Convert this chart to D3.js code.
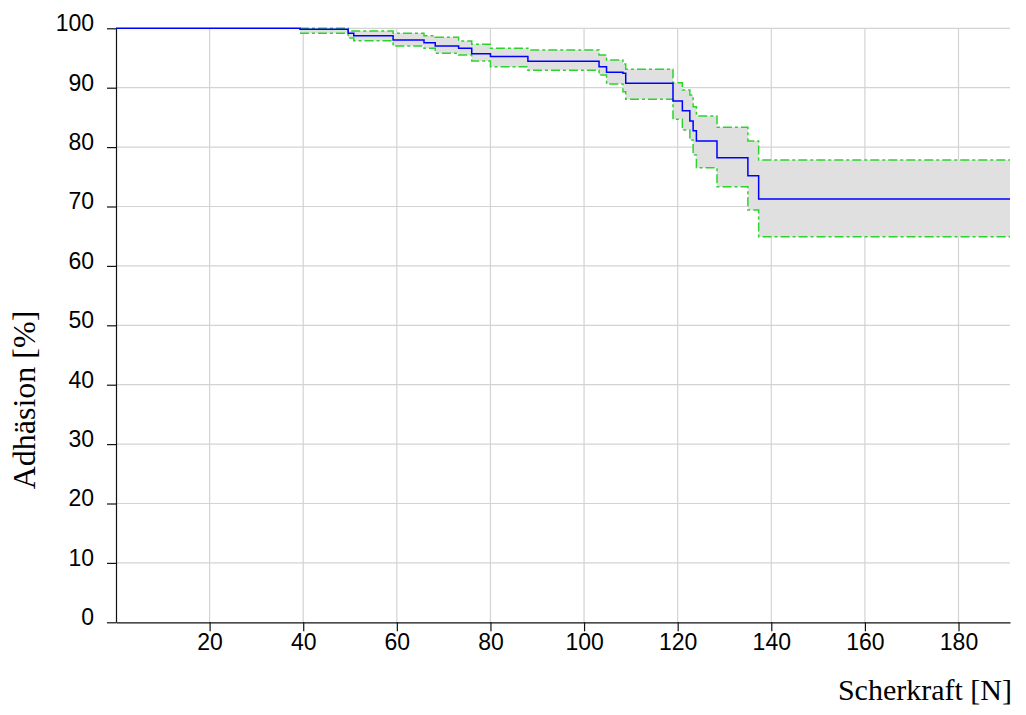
<!DOCTYPE html>
<html>
<head>
<meta charset="utf-8">
<script src="https://cdn.jsdelivr.net/npm/d3@7"></script>
<style>
  html, body { margin: 0; padding: 0; background: #fff; }
  svg { display: block; }
</style>
</head>
<body>
<svg id="chart" width="1026" height="715"></svg>
<script>
// Step start positions (shear force, N)
const stepTimes = [0, 39.3, 49.6, 50.8, 59.2, 65.8, 68.2, 73.2, 76.0, 80.0, 88.0, 103.2, 104.8, 108.3, 108.9, 119.0, 121.0, 122.6, 123.3, 124.0, 128.4, 135.0, 137.3];
// Kaplan-Meier estimate (%)
const survival = [100, 99.83, 99.16, 98.75, 98.03, 97.58, 97.02, 96.63, 95.72, 95.25, 94.44, 93.54, 92.59, 92.42, 90.74, 87.76, 86.13, 84.39, 82.76, 81.03, 78.22, 75.19, 71.26];
// Upper confidence bound (%)
const upperCI = [100, 100, 99.55, 99.55, 99.16, 98.75, 98.48, 97.86, 97.31, 96.63, 96.35, 95.5, 94.66, 93.99, 93.1, 90.84, 89.61, 88.77, 86.8, 85.24, 83.33, 81.03, 77.83];
// Lower confidence bound (%)
const lowerCI = [100, 99.16, 98.37, 97.91, 97.02, 96.63, 95.79, 95.5, 94.49, 93.54, 92.93, 92.14, 90.62, 89.33, 88.05, 84.68, 82.88, 81.2, 78.67, 76.53, 73.33, 69.41, 64.92];
const xMax = 191;
const xTicks = [20, 40, 60, 80, 100, 120, 140, 160, 180];
const yTicks = [0, 10, 20, 30, 40, 50, 60, 70, 80, 90, 100];
const xTitle = "Scherkraft [N]";
const yTitle = "Adhäsion [%]";

const svg = d3.select("#chart");
const mLeft = 116, mRight = 1010, mTop = 28.3, mBottom = 622.3;

const x = d3.scaleLinear().domain([0, xMax]).range([mLeft, mRight]);
const y = d3.scaleLinear().domain([0, 100]).range([mBottom, mTop]);

// extend each series to the right end
const rows = stepTimes.map((t, i) => ({ t, s: survival[i], u: upperCI[i], l: lowerCI[i] }));
rows.push({ t: xMax, s: survival[survival.length - 1], u: upperCI[upperCI.length - 1], l: lowerCI[lowerCI.length - 1] });
const ciRows = rows.slice(1);

// gridlines
const grid = svg.append("g");
grid.selectAll("line.gx").data(xTicks).join("line")
  .attr("x1", d => x(d)).attr("x2", d => x(d))
  .attr("y1", mTop).attr("y2", mBottom)
  .attr("stroke", "#d3d3d3").attr("stroke-width", 1.2);
grid.selectAll("line.gy").data(yTicks.filter(d => d > 0)).join("line")
  .attr("x1", mLeft).attr("x2", mRight)
  .attr("y1", d => y(d)).attr("y2", d => y(d))
  .attr("stroke", "#d3d3d3").attr("stroke-width", 1.2);

// confidence band
const area = d3.area().curve(d3.curveStepAfter)
  .x(d => x(d.t)).y0(d => y(d.l)).y1(d => y(d.u));
svg.append("path").datum(ciRows).attr("d", area).attr("fill", "#e0e0e0");

const lineOf = key => d3.line().curve(d3.curveStepAfter).x(d => x(d.t)).y(d => y(d[key]));
["u", "l"].forEach(k => {
  svg.append("path").datum(ciRows).attr("d", lineOf(k))
    .attr("fill", "none").attr("stroke", "#2bd42b").attr("stroke-width", 1.5)
    .attr("stroke-dasharray", "9,3,3,3");
});
svg.append("path").datum(rows).attr("d", lineOf("s"))
  .attr("fill", "none").attr("stroke", "#0000ff").attr("stroke-width", 1.5);

// axes
const yAxis = svg.append("g").attr("transform", `translate(${mLeft},0)`)
  .call(d3.axisLeft(y).tickValues(yTicks).tickSize(9).tickPadding(13).tickSizeOuter(0));
yAxis.selectAll("text").attr("y", -5);
const xAxis = svg.append("g").attr("transform", `translate(0,${mBottom})`)
  .call(d3.axisBottom(x).tickValues(xTicks).tickSize(9).tickPadding(2).tickSizeOuter(0));
[yAxis, xAxis].forEach(a => {
  a.select(".domain").attr("stroke", "#111").attr("stroke-width", 1.2);
  a.selectAll(".tick line").attr("stroke", "#111").attr("stroke-width", 1.2);
  a.selectAll("text").attr("font-family", "'Liberation Sans', Arial, sans-serif")
    .attr("font-size", 23).attr("fill", "#000");
});

// titles
svg.append("text").attr("x", 1012).attr("y", 700).attr("text-anchor", "end")
  .attr("font-family", "'Liberation Serif', 'Times New Roman', serif").attr("font-size", 30)
  .attr("fill", "#000").text(xTitle);
svg.append("text").attr("transform", "translate(35,400) rotate(-90)").attr("text-anchor", "middle")
  .attr("font-family", "'Liberation Serif', 'Times New Roman', serif").attr("font-size", 32)
  .attr("fill", "#000").text(yTitle);
</script>
</body>
</html>
